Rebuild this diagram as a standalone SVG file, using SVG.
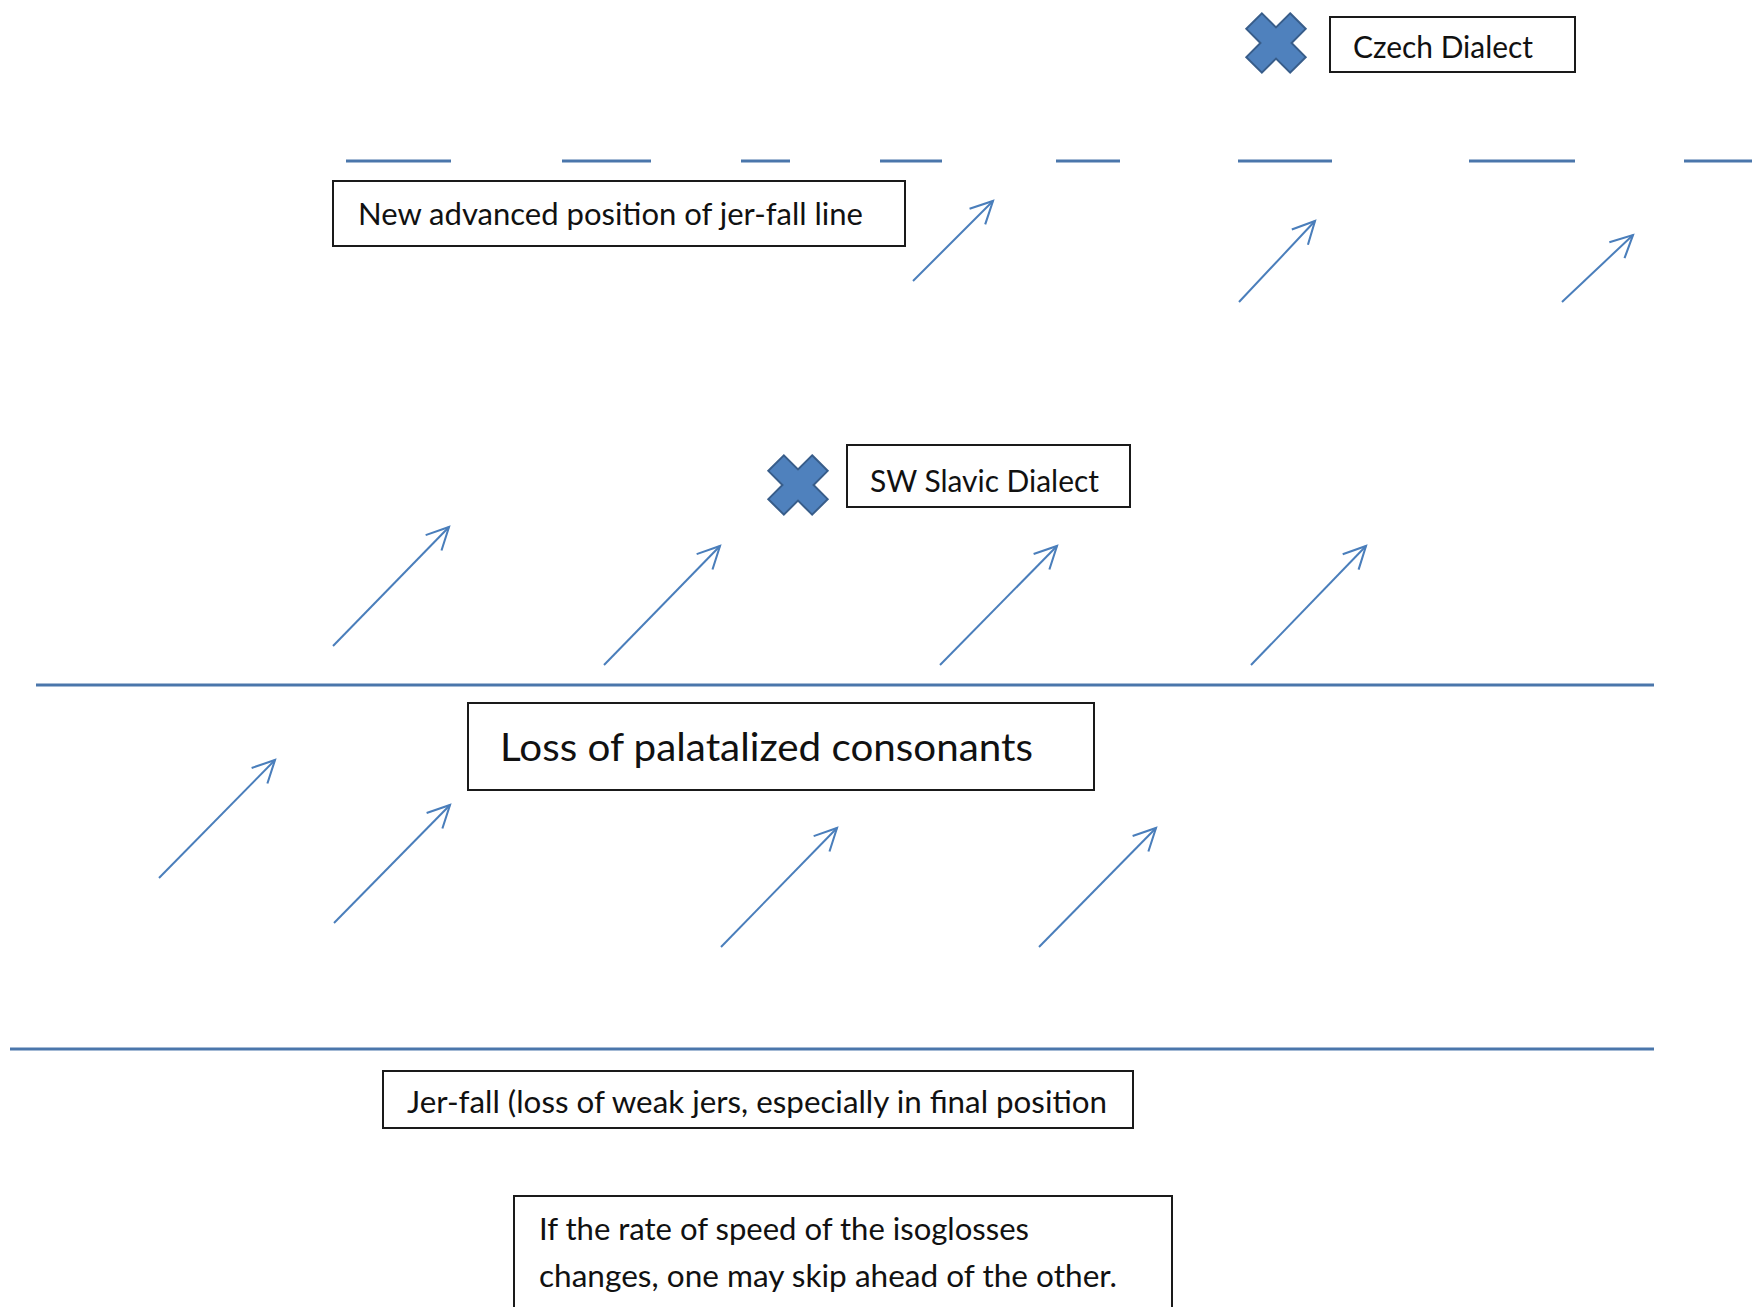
<svg xmlns="http://www.w3.org/2000/svg" width="1752" height="1307" viewBox="0 0 1752 1307">
  <style>
    .box { fill: #ffffff; stroke: #1a1a1a; stroke-width: 2; }
    .lbl { font-family: Lato, "Open Sans", "Liberation Sans", sans-serif; font-size: 30px; fill: #111111; }
    .big { font-size: 39px; }
    .iso { stroke: #4a76ab; stroke-width: 3; fill: none; }
    .arr { stroke: #4a7ebb; stroke-width: 2; fill: none; marker-end: url(#head); }
    .xmark { fill: #4f81bd; stroke: #385d8a; stroke-width: 2; stroke-linejoin: miter; }
  </style>
  <defs>
    <marker id="head" markerUnits="userSpaceOnUse" markerWidth="26" markerHeight="26" viewBox="0 0 20 20" refX="18" refY="10" orient="auto" overflow="visible">
      <path d="M1,1.5 L18,10 L1,18.5" fill="none" stroke="#4a7ebb" stroke-width="1.6"/>
    </marker>
    <polygon id="cross" points="-11,-31 11,-31 11,-11 31,-11 31,11 11,11 11,31 -11,31 -11,11 -31,11 -31,-11 -11,-11" transform="rotate(45)"/>
  </defs>
  <rect width="1752" height="1307" fill="#ffffff"/>

  <g id="isoglosses">
    <g id="new-jerfall-line">
      <line class="iso" x1="346" y1="161" x2="451" y2="161"/>
      <line class="iso" x1="562" y1="161" x2="651" y2="161"/>
      <line class="iso" x1="741" y1="161" x2="790" y2="161"/>
      <line class="iso" x1="880" y1="161" x2="942" y2="161"/>
      <line class="iso" x1="1056" y1="161" x2="1120" y2="161"/>
      <line class="iso" x1="1238" y1="161" x2="1332" y2="161"/>
      <line class="iso" x1="1469" y1="161" x2="1575" y2="161"/>
      <line class="iso" x1="1684" y1="161" x2="1752" y2="161"/>
    </g>
    <line id="palatal-line" class="iso" x1="36" y1="685" x2="1654" y2="685"/>
    <line id="jerfall-line" class="iso" x1="10" y1="1049" x2="1654" y2="1049"/>
  </g>

  <g id="connectors">
    <line class="arr" x1="913" y1="281" x2="993" y2="201"/>
    <line class="arr" x1="1239" y1="302" x2="1315" y2="221"/>
    <line class="arr" x1="1562" y1="302" x2="1633" y2="235"/>
    <line class="arr" x1="333" y1="646" x2="449" y2="527"/>
    <line class="arr" x1="604" y1="665" x2="720" y2="546"/>
    <line class="arr" x1="940" y1="665" x2="1057" y2="546"/>
    <line class="arr" x1="1251" y1="665" x2="1366" y2="546"/>
    <line class="arr" x1="159" y1="878" x2="275" y2="760"/>
    <line class="arr" x1="334" y1="923" x2="450" y2="805"/>
    <line class="arr" x1="721" y1="947" x2="837" y2="828"/>
    <line class="arr" x1="1039" y1="947" x2="1156" y2="828"/>
  </g>

  <g id="czech-marker">
    <use href="#cross" class="xmark" transform="translate(1276,43)"/>
  </g>
  <g id="czech-dialect">
    <rect class="box" x="1330" y="17" width="245" height="55"/>
    <text class="lbl" x="1353" y="58" textLength="180" lengthAdjust="spacingAndGlyphs">Czech Dialect</text>
  </g>

  <g id="new-advanced-position">
    <rect class="box" x="333" y="181" width="572" height="65"/>
    <text class="lbl" x="358" y="225" textLength="505" lengthAdjust="spacingAndGlyphs">New advanced position of jer-fall line</text>
  </g>

  <g id="sw-slavic-marker">
    <use href="#cross" class="xmark" transform="translate(798,485)"/>
  </g>
  <g id="sw-slavic-dialect">
    <rect class="box" x="847" y="445" width="283" height="62"/>
    <text class="lbl" x="870" y="492" textLength="229" lengthAdjust="spacingAndGlyphs">SW Slavic Dialect</text>
  </g>

  <g id="loss-palatalized">
    <rect class="box" x="468" y="703" width="626" height="87"/>
    <text class="lbl big" x="500" y="761" textLength="533" lengthAdjust="spacingAndGlyphs">Loss of palatalized consonants</text>
  </g>

  <g id="jer-fall">
    <rect class="box" x="383" y="1071" width="750" height="57"/>
    <text class="lbl" x="407" y="1113" textLength="700" lengthAdjust="spacingAndGlyphs">Jer-fall (loss of weak jers, especially in final position</text>
  </g>

  <g id="rate-note">
    <rect class="box" x="514" y="1196" width="658" height="130"/>
    <text class="lbl" x="539" y="1240" textLength="490" lengthAdjust="spacingAndGlyphs">If the rate of speed of the isoglosses</text>
    <text class="lbl" x="539" y="1287" textLength="578" lengthAdjust="spacingAndGlyphs">changes, one may skip ahead of the other.</text>
  </g>
</svg>
